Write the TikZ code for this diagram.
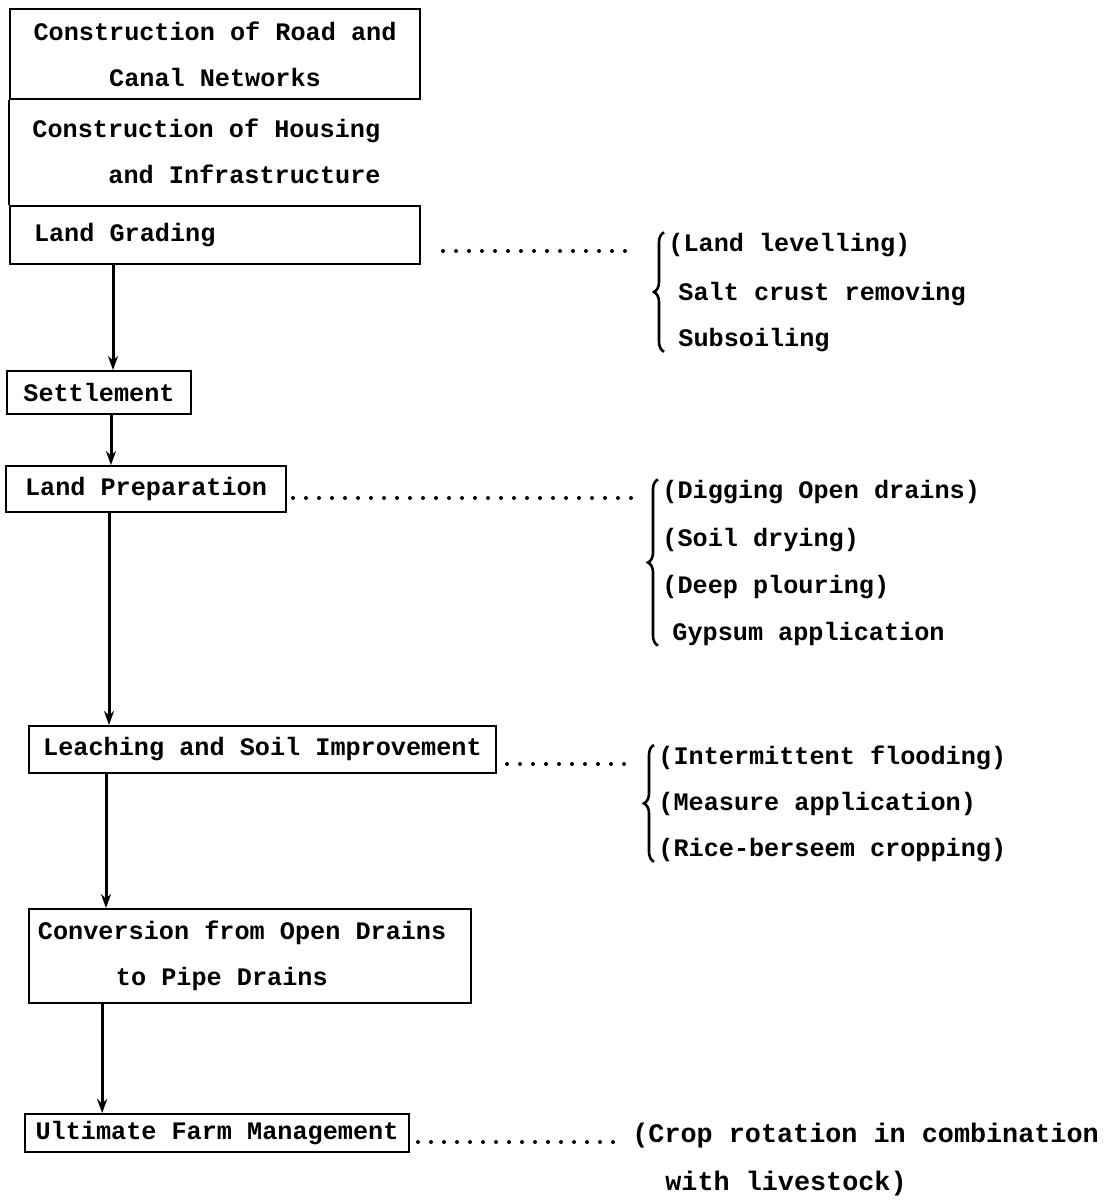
\documentclass[tikz,border=0pt]{standalone}
\usepackage{fontspec}
\setmainfont{Liberation Mono}[WordSpace={1,0,0}]
\usetikzlibrary{arrows.meta,positioning,decorations.pathreplacing}

\begin{document}
\begin{tikzpicture}[x=0.5pt,y=-0.5pt,>={Stealth[length=7pt,width=5pt]},
    every node/.style={font=\fontsize{12.6}{23}\selectfont\bfseries},
    box/.style={draw,line width=1pt,anchor=north west,inner sep=0pt},
    note/.style={anchor=base west,inner sep=0pt},
    crop/.style={note,font=\fontsize{13.4}{23}\selectfont\bfseries},
    flow/.style={->,line width=1.5pt},
    dots/.style={line width=2pt,dash pattern=on 0pt off 6.5pt,line cap=round},
    brace/.style={decorate,decoration={brace,amplitude=5pt},line width=1.3pt}]
  \useasboundingbox (0,0) rectangle (1108,1200);

  % stages
  \node[box,align=center,minimum width=205pt,minimum height=45pt] (road) at (9,8)
    {Construction of Road and\\Canal Networks};
  \node[anchor=west,inner sep=0pt,align=left] (housing) at (32,151)
    {Construction of Housing\\\hspace*{38pt}and Infrastructure};
  \node[box,inner xsep=12pt,minimum height=29pt] (grading) at (9,205)
    {\makebox[181pt][l]{Land Grading}};
  \node[box,minimum width=92pt,minimum height=21.5pt] (settle) at (6,370) {Settlement};
  \node[box,minimum width=140pt,minimum height=23pt] (prep) at (5,465) {Land Preparation};
  \node[box,minimum width=233.5pt,minimum height=23.5pt] (leach) at (28,725)
    {Leaching and Soil Improvement};
  \node[box,inner xsep=4.5pt,align=left,minimum height=47pt] (convert) at (28,908)
    {Conversion from Open Drains\hspace*{8pt}\\\hspace*{39pt}to Pipe Drains};
  \node[box,minimum width=192pt,minimum height=19pt] (ultimate) at (24,1113)
    {Ultimate Farm Management};
  \draw[line width=1pt] (road.south west) -- (grading.north west);

  % measures
  \node[note] (lvl1) at (668,251) {(Land levelling)};
  \node[note] (lvl2) at (678,300) {Salt crust removing};
  \node[note] (lvl3) at (678,346) {Subsoiling};
  \node[note] (prp1) at (662,498) {(Digging Open drains)};
  \node[note] (prp2) at (662,546) {(Soil drying)};
  \node[note] (prp3) at (662,593) {(Deep plouring)};
  \node[note] (prp4) at (672,640) {Gypsum application};
  \node[note] (lch1) at (658,764) {(Intermittent flooding)};
  \node[note] (lch2) at (658,810) {(Measure application)};
  \node[note] (lch3) at (658,856) {(Rice-berseem cropping)};
  \node[crop] (crp1) at (632,1142) {(Crop rotation in combination};
  \node[crop] (crp2) at (665,1190) {with livestock)};

  \coordinate (lvlb) at ([xshift=-2pt]lvl1.north west);
  \coordinate (prpb) at ([xshift=-2pt]prp1.north west);
  \coordinate (lchb) at ([xshift=-2pt]lch1.north west);
  \draw[brace] (lvlb |- lvl3.south) -- (lvlb);
  \draw[brace] (prpb |- prp4.south) -- (prpb);
  \draw[brace] (lchb |- lch3.south) -- (lchb);

  \draw[dots,shorten <=11pt,shorten >=19pt] (grading.east |- lvl1.base) -- (lvlb |- lvl1.base);
  \draw[dots,shorten <=3pt,shorten >=10pt] (prep.east |- prp1.base) -- (prpb |- prp1.base);
  \draw[dots,shorten <=5pt,shorten >=12pt] (leach.east |- lch1.base) -- (lchb |- lch1.base);
  \draw[dots,shorten <=4pt,shorten >=6pt] (ultimate.east |- crp1.base) -- (crp1.base west);

  % flow
  \coordinate (a1) at ([xshift=7pt]settle.north);
  \coordinate (a2) at ([xshift=6pt]settle.south);
  \coordinate (a3) at ([xshift=-18.5pt]prep.south);
  \coordinate (a4) at ([xshift=-78.25pt]leach.south);
  \coordinate (a5) at ([xshift=-74pt]convert.south);
  \draw[flow] (a1 |- grading.south) -- (a1);
  \draw[flow] (a2) -- (a2 |- prep.north);
  \draw[flow] (a3) -- (a3 |- leach.north);
  \draw[flow] (a4) -- (a4 |- convert.north);
  \draw[flow] (a5) -- (a5 |- ultimate.north);
\end{tikzpicture}
\end{document}
